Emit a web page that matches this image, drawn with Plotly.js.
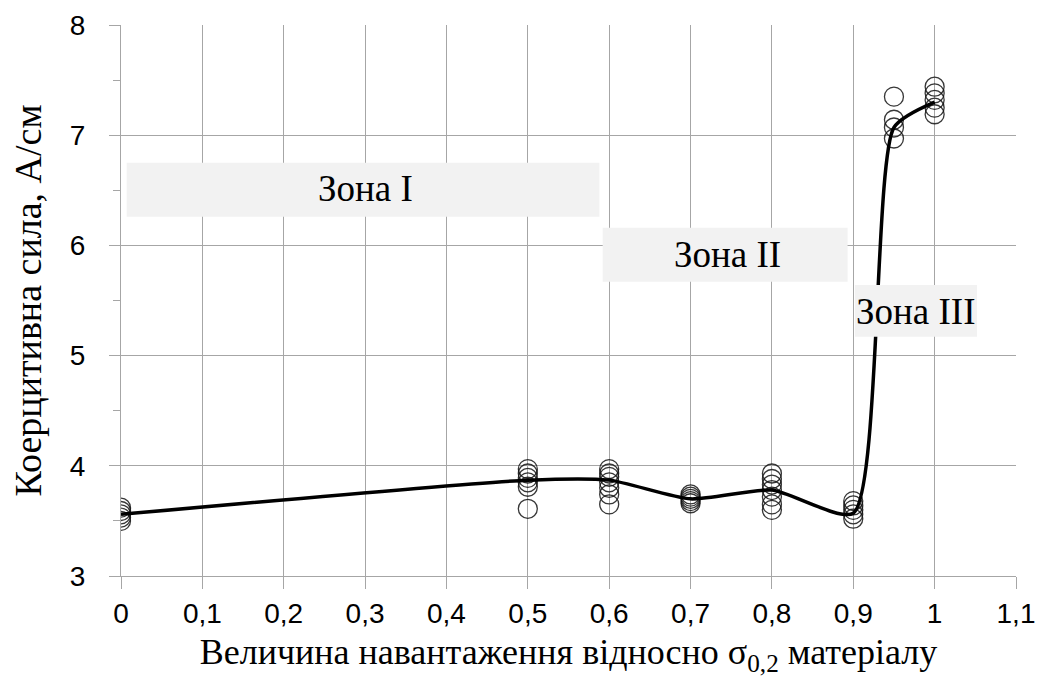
<!DOCTYPE html>
<html>
<head>
<meta charset="utf-8">
<script src="https://cdn.plot.ly/plotly-3.0.1.min.js"></script>
<style>html,body{margin:0;padding:0;background:#fff;}#chart{width:1040px;height:680px;}</style>
</head>
<body>
<div id="chart"></div>
<script>
// Measured points (load fraction -> coercive force, A/cm)
const loadLevels = [0, 0.5, 0.6, 0.7, 0.8, 0.9, 0.95, 1.0];
const valsAt000 = [3.50, 3.53, 3.56, 3.59, 3.62];
const valsAt050 = [3.97, 3.93, 3.89, 3.85, 3.81, 3.61];
const valsAt060 = [3.97, 3.93, 3.90, 3.85, 3.80, 3.74, 3.65];
const valsAt070 = [3.74, 3.72, 3.70, 3.68, 3.66];
const valsAt080 = [3.93, 3.88, 3.83, 3.78, 3.72, 3.65, 3.60];
const valsAt090 = [3.68, 3.64, 3.60, 3.56, 3.52];
const valsAt095 = [7.35, 7.14, 7.07, 6.97];
const valsAt100 = [7.44, 7.38, 7.32, 7.25, 7.19];
// Smoothed trend line values
const trendY = [3.56, 3.87, 3.87, 3.70, 3.78, 3.57, 7.07, 7.30];
// Tick labels
const xTickVals = [0,0.1,0.2,0.3,0.4,0.5,0.6,0.7,0.8,0.9,1.0,1.1];
const xTickText = ['0','0,1','0,2','0,3','0,4','0,5','0,6','0,7','0,8','0,9','1','1,1'];
const yTickVals = [3,4,5,6,7,8];
// Zone labels
const zoneNames = ['Зона I', 'Зона II', 'Зона III'];
const zoneBoxes = [
  {x0:0.007, x1:0.588, y0:6.26, y1:6.75, tx:0.30, ty:6.52},
  {x0:0.592, x1:0.893, y0:5.67, y1:6.16, tx:0.745, ty:5.92},
  {x0:0.902, x1:1.052, y0:5.17, y1:5.64, tx:0.977, ty:5.40}
];

const groups = [valsAt000, valsAt050, valsAt060, valsAt070, valsAt080, valsAt090, valsAt095, valsAt100];
const px = [], py = [];
groups.forEach((g, i) => g.forEach(v => { px.push(loadLevels[i]); py.push(v); }));

const serif = '"Liberation Serif"';
const sans = '"Liberation Sans"';

const traces = [
  {
    x: px, y: py, type: 'scatter', mode: 'markers',
    marker: {symbol: 'circle-open', size: 19, color: 'rgba(20,20,20,0.85)', line: {width: 1.3, color: 'rgba(20,20,20,0.85)'}},
    hoverinfo: 'x+y', showlegend: false
  },
  {
    x: loadLevels, y: trendY, type: 'scatter', mode: 'lines',
    line: {color: '#000', width: 3.5, shape: 'spline', smoothing: 0.6},
    showlegend: false
  }
];

const layout = {
  width: 1040, height: 680,
  margin: {l: 121, r: 24, t: 25, b: 104},
  paper_bgcolor: '#fff', plot_bgcolor: '#fff',
  showlegend: false,
  font: {family: serif},
  xaxis: {
    range: [0, 1.1], tickvals: xTickVals, ticktext: xTickText,
    showgrid: true, gridcolor: '#a6a6a6', gridwidth: 1,
    showline: true, linecolor: '#a6a6a6', linewidth: 1, mirror: false,
    ticks: 'outside', ticklen: 12, tickcolor: '#a6a6a6',
    ticklabelstandoff: 0,
    tickfont: {family: sans, size: 28, color: '#000'},
    zeroline: false,
    title: {text: 'Величина навантаження відносно σ<sub>0,2</sub> матеріалу', font: {family: serif, size: 36, color: '#000'}, standoff: 11}
  },
  yaxis: {
    range: [3, 8], tickvals: yTickVals,
    showgrid: true, gridcolor: '#a6a6a6', gridwidth: 1,
    showline: true, linecolor: '#a6a6a6', linewidth: 1,
    ticks: 'outside', ticklen: 11, tickcolor: '#a6a6a6',
    ticklabelstandoff: 18,
    minor: {dtick: 0.5, ticks: 'outside', ticklen: 7, tickcolor: '#a6a6a6', showgrid: false},
    tickfont: {family: sans, size: 28, color: '#000'},
    zeroline: false,
    title: {text: 'Коерцитивна сила, А/см', font: {family: serif, size: 38, color: '#000'}, standoff: 16}
  },
  shapes: zoneBoxes.map(b => ({type: 'rect', xref: 'x', yref: 'y', x0: b.x0, x1: b.x1, y0: b.y0, y1: b.y1,
    fillcolor: '#f2f2f2', line: {width: 0}, layer: 'above'})),
  annotations: zoneBoxes.map((b, i) => ({xref: 'x', yref: 'y', x: b.tx, y: b.ty, text: zoneNames[i], showarrow: false,
    font: {family: serif, size: 37, color: '#000'}}))
};

Plotly.newPlot('chart', traces, layout, {displayModeBar: false, staticPlot: true});
</script>
</body>
</html>
